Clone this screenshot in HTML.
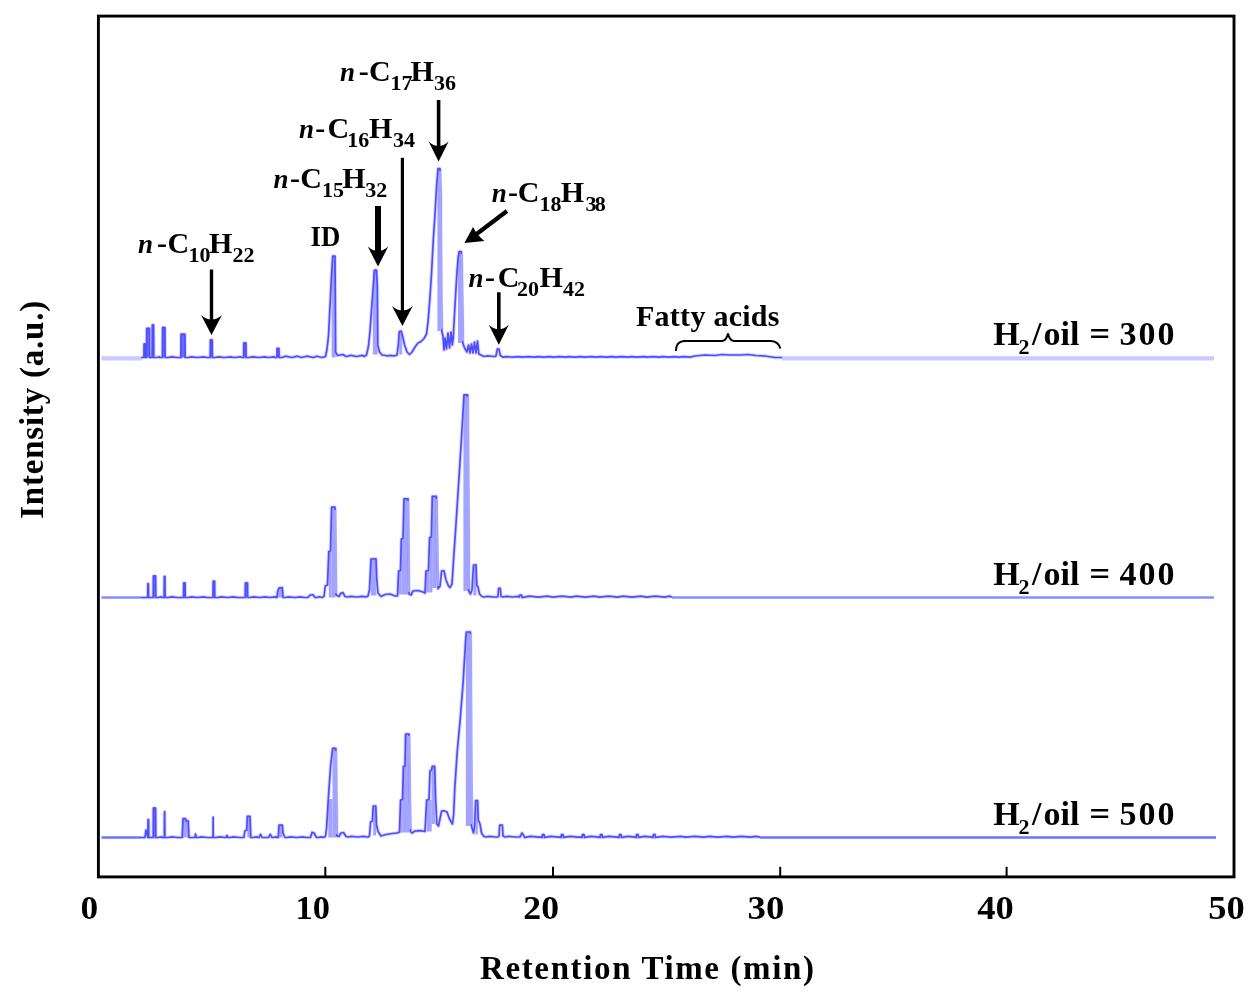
<!DOCTYPE html>
<html lang="en"><head><meta charset="utf-8"><title>GC chromatograms</title>
<style>
html,body{margin:0;padding:0;background:#fff;}
svg{display:block;}
text{font-family:"Liberation Serif",serif;fill:#000;}
.b{font-weight:bold;}
.bi{font-weight:bold;font-style:italic;}
</style></head>
<body>
<svg width="1258" height="1000" viewBox="0 0 1258 1000">
<rect width="1258" height="1000" fill="#fff"/>
<line x1="101.5" y1="358.3" x2="142" y2="358.3" stroke="#c9c9ff" stroke-width="4.2"/>
<line x1="782" y1="358.3" x2="1214" y2="358.3" stroke="#c9c9ff" stroke-width="4.2"/>
<path d="M141.0,357.5 L143.9,357.5 L144.1,344.0 L145.4,344.0 L145.6,357.5 L146.5,357.5 L146.7,328.5 L149.5,328.5 L149.7,357.5 L152.1,357.5 L152.3,325.0 L153.6,325.0 L153.8,357.5 L156.0,357.5 L159.6,356.8 L160.0,357.5 L162.4,357.5 L162.6,327.7 L164.9,327.7 L165.1,357.5 L168.0,357.5 L171.6,356.8 L177.6,357.5 L179.0,357.5 L180.9,357.5 L181.1,334.4 L184.9,334.4 L185.1,357.5 L188.0,357.5 L191.6,356.8 L197.6,357.5 L203.6,356.8 L207.2,357.5 L208.0,357.5 L210.2,357.5 L210.4,340.0 L212.2,340.0 L212.4,357.5 L215.0,357.5 L218.6,356.8 L224.6,357.5 L230.6,356.8 L234.2,357.5 L240.2,356.8 L242.0,357.5 L243.6,357.5 L243.8,343.0 L245.9,343.0 L246.1,357.5 L249.0,357.5 L252.6,356.8 L258.6,357.5 L264.6,356.8 L268.2,357.5 L274.2,356.8 L275.0,357.5 L276.9,357.5 L277.1,348.6 L278.9,348.6 L279.1,357.5 L282.0,357.5 L285.6,356.2 L291.6,357.5 L297.6,356.2 L301.2,357.5 L307.2,356.2 L313.2,357.5 L316.8,356.2 L322.0,357.5 L325.5,356.5 L327.0,349.0 L328.5,336.0 L330.0,306.0 L331.5,276.0 L332.8,256.0 L335.0,256.0 L335.3,300.0 L335.6,352.0 L337.5,355.5 L343.0,354.5 L346.0,356.5 L347.0,356.5 L350.6,355.3 L356.6,356.5 L362.6,355.3 L364.0,356.5 L366.5,355.0 L368.5,346.0 L370.0,331.0 L371.5,310.0 L373.0,290.0 L374.6,270.0 L376.4,270.0 L377.3,285.0 L377.8,345.0 L379.5,352.0 L382.0,355.0 L386.0,355.5 L387.0,356.0 L390.6,355.3 L394.0,356.0 L397.0,355.0 L398.3,345.0 L399.3,331.5 L401.2,331.0 L402.8,337.0 L404.6,345.0 L407.0,352.0 L409.5,354.5 L412.0,352.0 L415.0,347.0 L418.0,343.0 L421.0,341.5 L424.0,338.5 L426.5,334.0 L428.0,322.0 L429.8,300.0 L431.6,272.0 L433.3,240.0 L435.0,214.0 L436.6,186.0 L438.0,168.7 L440.0,168.7 L440.7,200.0 L441.2,300.0 L441.8,331.0 L443.0,336.0 L444.0,350.0 L445.0,338.0 L446.5,349.0 L448.0,333.0 L449.5,348.0 L451.0,332.0 L452.3,345.0 L453.3,338.0 L453.9,325.0 L455.3,300.0 L456.8,275.0 L458.2,257.0 L459.2,251.5 L461.3,251.5 L462.0,280.0 L462.8,343.0 L464.6,348.0 L467.0,352.0 L468.5,345.0 L470.0,353.0 L471.5,344.0 L473.0,353.0 L474.5,342.0 L476.0,353.0 L477.5,341.0 L478.8,354.0 L482.0,355.5 L484.0,356.5 L487.6,355.8 L493.6,356.5 L495.0,356.5 L496.0,356.0 L497.3,349.0 L499.0,349.0 L500.3,355.5 L503.0,357.2 L506.6,356.6 L512.6,357.2 L518.6,356.6 L522.2,357.2 L528.2,356.6 L534.2,357.2 L537.8,356.6 L543.8,357.2 L549.8,356.6 L553.4,357.2 L559.4,356.6 L565.4,357.2 L569.0,356.6 L575.0,357.2 L581.0,356.6 L584.6,357.2 L590.6,356.6 L596.6,357.2 L600.2,356.6 L606.2,357.2 L612.2,356.6 L615.8,357.2 L621.8,356.6 L627.8,357.2 L631.4,356.6 L637.4,357.2 L643.4,356.6 L647.0,357.2 L653.0,356.6 L659.0,357.2 L662.6,356.6 L668.6,357.2 L674.6,356.6 L678.2,357.2 L684.2,356.6 L690.0,357.2 L695.0,356.0 L705.0,355.0 L715.0,355.5 L722.0,354.5 L730.0,355.0 L740.0,355.0 L748.0,354.5 L756.0,355.5 L765.0,356.0 L775.0,357.5 L782.0,357.5" fill="none" stroke="#d6d6ff" stroke-width="3.6" stroke-linejoin="round"/>
<rect x="331.6" y="256.0" width="4.0" height="101.5" fill="#a4a4ff"/>
<rect x="372.8" y="270.0" width="4.8" height="84.5" fill="#a4a4ff"/>
<rect x="437.4" y="169.0" width="3.0" height="162.0" fill="#a4a4ff"/>
<rect x="458.0" y="251.5" width="3.8" height="91.5" fill="#a4a4ff"/>
<rect x="399.2" y="331.5" width="3.0" height="23.0" fill="#a4a4ff"/>
<rect x="143.8" y="343.0" width="1.9" height="14.5" fill="#6a6aff"/>
<rect x="146.4" y="327.5" width="3.4" height="30.0" fill="#6a6aff"/>
<rect x="152.0" y="324.0" width="1.9" height="33.5" fill="#6a6aff"/>
<rect x="162.3" y="326.7" width="2.9" height="30.8" fill="#6a6aff"/>
<rect x="180.8" y="333.4" width="4.4" height="24.1" fill="#6a6aff"/>
<rect x="210.1" y="339.0" width="2.4" height="18.5" fill="#6a6aff"/>
<rect x="243.5" y="342.0" width="2.7" height="15.5" fill="#6a6aff"/>
<rect x="276.8" y="347.6" width="2.4" height="9.9" fill="#6a6aff"/>
<path d="M141.0,357.5 L143.9,357.5 L144.1,344.0 L145.4,344.0 L145.6,357.5 L146.5,357.5 L146.7,328.5 L149.5,328.5 L149.7,357.5 L152.1,357.5 L152.3,325.0 L153.6,325.0 L153.8,357.5 L156.0,357.5 L159.6,356.8 L160.0,357.5 L162.4,357.5 L162.6,327.7 L164.9,327.7 L165.1,357.5 L168.0,357.5 L171.6,356.8 L177.6,357.5 L179.0,357.5 L180.9,357.5 L181.1,334.4 L184.9,334.4 L185.1,357.5 L188.0,357.5 L191.6,356.8 L197.6,357.5 L203.6,356.8 L207.2,357.5 L208.0,357.5 L210.2,357.5 L210.4,340.0 L212.2,340.0 L212.4,357.5 L215.0,357.5 L218.6,356.8 L224.6,357.5 L230.6,356.8 L234.2,357.5 L240.2,356.8 L242.0,357.5 L243.6,357.5 L243.8,343.0 L245.9,343.0 L246.1,357.5 L249.0,357.5 L252.6,356.8 L258.6,357.5 L264.6,356.8 L268.2,357.5 L274.2,356.8 L275.0,357.5 L276.9,357.5 L277.1,348.6 L278.9,348.6 L279.1,357.5 L282.0,357.5 L285.6,356.2 L291.6,357.5 L297.6,356.2 L301.2,357.5 L307.2,356.2 L313.2,357.5 L316.8,356.2 L322.0,357.5 L325.5,356.5 L327.0,349.0 L328.5,336.0 L330.0,306.0 L331.5,276.0 L332.8,256.0 L335.0,256.0 L335.3,300.0 L335.6,352.0 L337.5,355.5 L343.0,354.5 L346.0,356.5 L347.0,356.5 L350.6,355.3 L356.6,356.5 L362.6,355.3 L364.0,356.5 L366.5,355.0 L368.5,346.0 L370.0,331.0 L371.5,310.0 L373.0,290.0 L374.6,270.0 L376.4,270.0 L377.3,285.0 L377.8,345.0 L379.5,352.0 L382.0,355.0 L386.0,355.5 L387.0,356.0 L390.6,355.3 L394.0,356.0 L397.0,355.0 L398.3,345.0 L399.3,331.5 L401.2,331.0 L402.8,337.0 L404.6,345.0 L407.0,352.0 L409.5,354.5 L412.0,352.0 L415.0,347.0 L418.0,343.0 L421.0,341.5 L424.0,338.5 L426.5,334.0 L428.0,322.0 L429.8,300.0 L431.6,272.0 L433.3,240.0 L435.0,214.0 L436.6,186.0 L438.0,168.7 L440.0,168.7 L440.7,200.0 L441.2,300.0 L441.8,331.0 L443.0,336.0 L444.0,350.0 L445.0,338.0 L446.5,349.0 L448.0,333.0 L449.5,348.0 L451.0,332.0 L452.3,345.0 L453.3,338.0 L453.9,325.0 L455.3,300.0 L456.8,275.0 L458.2,257.0 L459.2,251.5 L461.3,251.5 L462.0,280.0 L462.8,343.0 L464.6,348.0 L467.0,352.0 L468.5,345.0 L470.0,353.0 L471.5,344.0 L473.0,353.0 L474.5,342.0 L476.0,353.0 L477.5,341.0 L478.8,354.0 L482.0,355.5 L484.0,356.5 L487.6,355.8 L493.6,356.5 L495.0,356.5 L496.0,356.0 L497.3,349.0 L499.0,349.0 L500.3,355.5 L503.0,357.2 L506.6,356.6 L512.6,357.2 L518.6,356.6 L522.2,357.2 L528.2,356.6 L534.2,357.2 L537.8,356.6 L543.8,357.2 L549.8,356.6 L553.4,357.2 L559.4,356.6 L565.4,357.2 L569.0,356.6 L575.0,357.2 L581.0,356.6 L584.6,357.2 L590.6,356.6 L596.6,357.2 L600.2,356.6 L606.2,357.2 L612.2,356.6 L615.8,357.2 L621.8,356.6 L627.8,357.2 L631.4,356.6 L637.4,357.2 L643.4,356.6 L647.0,357.2 L653.0,356.6 L659.0,357.2 L662.6,356.6 L668.6,357.2 L674.6,356.6 L678.2,357.2 L684.2,356.6 L690.0,357.2 L695.0,356.0 L705.0,355.0 L715.0,355.5 L722.0,354.5 L730.0,355.0 L740.0,355.0 L748.0,354.5 L756.0,355.5 L765.0,356.0 L775.0,357.5 L782.0,357.5" fill="none" stroke="#4e4eff" stroke-width="1.7" stroke-linejoin="round"/>
<line x1="440.1" y1="171" x2="441.6" y2="329" stroke="#a6a6ff" stroke-width="2.5"/>
<line x1="461.4" y1="254" x2="462.7" y2="341" stroke="#a6a6ff" stroke-width="2.5"/>
<line x1="101.5" y1="597.5" x2="142" y2="597.5" stroke="#8a8aff" stroke-width="2.6"/>
<line x1="672" y1="597.5" x2="1214" y2="597.5" stroke="#8a8aff" stroke-width="2.6"/>
<path d="M141.0,597.5 L147.7,597.5 L147.9,583.8 L148.4,583.8 L148.6,597.5 L153.2,597.5 L153.4,576.0 L155.6,576.0 L155.8,597.5 L158.0,597.5 L161.6,596.8 L162.0,597.5 L164.1,597.5 L164.3,576.6 L164.9,576.6 L165.1,597.5 L168.0,597.5 L171.6,596.8 L177.6,597.5 L181.0,597.5 L183.5,597.5 L183.7,583.0 L185.1,583.0 L185.3,597.5 L188.0,597.5 L191.6,596.8 L197.6,597.5 L203.6,596.8 L207.2,597.5 L211.0,597.5 L213.0,597.5 L213.2,581.4 L214.6,581.4 L214.8,597.5 L218.0,597.5 L221.6,596.8 L227.6,597.5 L233.6,596.8 L237.2,597.5 L243.0,597.5 L245.2,597.5 L245.4,583.0 L247.5,583.0 L247.7,597.5 L250.0,597.5 L253.6,596.8 L259.6,597.5 L265.6,596.8 L269.2,597.5 L275.2,596.8 L276.0,597.5 L277.0,597.5 L277.5,592.0 L279.0,588.0 L282.3,587.6 L283.0,597.5 L285.0,597.5 L288.6,596.8 L294.6,597.5 L300.6,596.8 L304.2,597.5 L307.0,597.5 L308.0,597.5 L310.0,595.0 L313.0,594.8 L315.0,597.5 L316.0,597.5 L319.6,596.8 L322.0,597.5 L324.0,596.5 L325.3,586.0 L327.5,585.0 L328.8,551.5 L330.5,551.0 L331.6,507.2 L335.0,507.2 L335.5,560.0 L336.0,595.0 L339.0,596.5 L341.0,593.0 L343.0,592.6 L345.0,596.5 L347.0,597.0 L350.6,596.3 L356.6,597.0 L362.6,596.3 L366.0,597.0 L368.0,596.0 L369.5,590.0 L371.0,559.0 L376.0,558.8 L376.8,580.0 L378.0,593.0 L381.0,596.5 L385.0,594.5 L390.0,594.0 L395.0,596.0 L397.5,596.0 L398.6,571.0 L400.5,570.5 L401.3,539.0 L403.0,538.5 L404.0,498.8 L408.0,498.8 L408.4,560.0 L409.0,594.0 L411.0,595.0 L413.0,591.0 L418.0,590.5 L423.0,592.0 L425.0,593.0 L426.0,571.0 L428.5,570.5 L429.6,537.5 L431.4,537.0 L432.3,496.4 L436.4,496.4 L437.0,560.0 L438.0,588.8 L440.0,586.0 L441.6,571.0 L444.0,570.8 L446.0,580.0 L448.5,586.0 L450.0,587.6 L452.0,584.0 L453.6,559.0 L456.0,524.0 L458.4,487.0 L460.8,449.6 L463.2,409.0 L464.0,394.9 L467.6,394.9 L468.2,480.0 L468.8,591.0 L470.5,594.0 L472.0,590.0 L473.5,565.0 L476.0,564.8 L476.8,585.0 L478.0,587.0 L479.5,594.0 L482.0,596.5 L484.0,597.0 L487.6,596.3 L493.6,597.0 L497.0,597.0 L498.0,596.5 L498.6,588.3 L500.3,588.3 L501.0,596.5 L503.0,597.0 L506.6,596.3 L512.6,597.0 L518.6,596.3 L519.0,597.0 L520.0,595.0 L521.5,595.0 L522.0,597.5 L524.0,597.2 L529.4,596.2 L538.4,597.2 L547.4,596.2 L552.8,597.2 L561.8,596.2 L570.8,597.2 L576.2,596.2 L585.2,597.2 L594.2,596.2 L599.6,597.2 L608.6,596.2 L617.6,597.2 L623.0,596.2 L632.0,597.2 L641.0,596.2 L646.4,597.2 L655.4,596.2 L664.4,597.2 L669.8,596.2 L672.0,597.2" fill="none" stroke="#d6d6ff" stroke-width="3.6" stroke-linejoin="round"/>
<rect x="278.0" y="588.0" width="4.5" height="9.5" fill="#a4a4ff"/>
<rect x="331.4" y="507.5" width="3.9" height="90.0" fill="#a4a4ff"/>
<rect x="328.8" y="551.0" width="2.8" height="46.5" fill="#a4a4ff"/>
<rect x="371.0" y="559.0" width="5.2" height="36.5" fill="#a4a4ff"/>
<rect x="403.9" y="499.0" width="4.4" height="95.5" fill="#a4a4ff"/>
<rect x="401.2" y="539.0" width="2.8" height="55.5" fill="#a4a4ff"/>
<rect x="398.6" y="571.0" width="2.8" height="23.5" fill="#a4a4ff"/>
<rect x="432.2" y="496.6" width="4.4" height="91.4" fill="#a4a4ff"/>
<rect x="429.5" y="537.5" width="2.9" height="55.0" fill="#a4a4ff"/>
<rect x="426.2" y="571.0" width="3.4" height="21.5" fill="#a4a4ff"/>
<rect x="463.4" y="395.0" width="4.5" height="196.0" fill="#a4a4ff"/>
<rect x="473.4" y="565.0" width="3.0" height="30.5" fill="#a4a4ff"/>
<rect x="147.6" y="582.8" width="1.1" height="14.7" fill="#6a6aff"/>
<rect x="153.1" y="575.0" width="2.8" height="22.5" fill="#6a6aff"/>
<rect x="164.0" y="575.6" width="1.2" height="21.9" fill="#6a6aff"/>
<rect x="183.4" y="582.0" width="2.0" height="15.5" fill="#6a6aff"/>
<rect x="212.9" y="580.4" width="2.0" height="17.1" fill="#6a6aff"/>
<rect x="245.1" y="582.0" width="2.7" height="15.5" fill="#6a6aff"/>
<path d="M141.0,597.5 L147.7,597.5 L147.9,583.8 L148.4,583.8 L148.6,597.5 L153.2,597.5 L153.4,576.0 L155.6,576.0 L155.8,597.5 L158.0,597.5 L161.6,596.8 L162.0,597.5 L164.1,597.5 L164.3,576.6 L164.9,576.6 L165.1,597.5 L168.0,597.5 L171.6,596.8 L177.6,597.5 L181.0,597.5 L183.5,597.5 L183.7,583.0 L185.1,583.0 L185.3,597.5 L188.0,597.5 L191.6,596.8 L197.6,597.5 L203.6,596.8 L207.2,597.5 L211.0,597.5 L213.0,597.5 L213.2,581.4 L214.6,581.4 L214.8,597.5 L218.0,597.5 L221.6,596.8 L227.6,597.5 L233.6,596.8 L237.2,597.5 L243.0,597.5 L245.2,597.5 L245.4,583.0 L247.5,583.0 L247.7,597.5 L250.0,597.5 L253.6,596.8 L259.6,597.5 L265.6,596.8 L269.2,597.5 L275.2,596.8 L276.0,597.5 L277.0,597.5 L277.5,592.0 L279.0,588.0 L282.3,587.6 L283.0,597.5 L285.0,597.5 L288.6,596.8 L294.6,597.5 L300.6,596.8 L304.2,597.5 L307.0,597.5 L308.0,597.5 L310.0,595.0 L313.0,594.8 L315.0,597.5 L316.0,597.5 L319.6,596.8 L322.0,597.5 L324.0,596.5 L325.3,586.0 L327.5,585.0 L328.8,551.5 L330.5,551.0 L331.6,507.2 L335.0,507.2 L335.5,560.0 L336.0,595.0 L339.0,596.5 L341.0,593.0 L343.0,592.6 L345.0,596.5 L347.0,597.0 L350.6,596.3 L356.6,597.0 L362.6,596.3 L366.0,597.0 L368.0,596.0 L369.5,590.0 L371.0,559.0 L376.0,558.8 L376.8,580.0 L378.0,593.0 L381.0,596.5 L385.0,594.5 L390.0,594.0 L395.0,596.0 L397.5,596.0 L398.6,571.0 L400.5,570.5 L401.3,539.0 L403.0,538.5 L404.0,498.8 L408.0,498.8 L408.4,560.0 L409.0,594.0 L411.0,595.0 L413.0,591.0 L418.0,590.5 L423.0,592.0 L425.0,593.0 L426.0,571.0 L428.5,570.5 L429.6,537.5 L431.4,537.0 L432.3,496.4 L436.4,496.4 L437.0,560.0 L438.0,588.8 L440.0,586.0 L441.6,571.0 L444.0,570.8 L446.0,580.0 L448.5,586.0 L450.0,587.6 L452.0,584.0 L453.6,559.0 L456.0,524.0 L458.4,487.0 L460.8,449.6 L463.2,409.0 L464.0,394.9 L467.6,394.9 L468.2,480.0 L468.8,591.0 L470.5,594.0 L472.0,590.0 L473.5,565.0 L476.0,564.8 L476.8,585.0 L478.0,587.0 L479.5,594.0 L482.0,596.5 L484.0,597.0 L487.6,596.3 L493.6,597.0 L497.0,597.0 L498.0,596.5 L498.6,588.3 L500.3,588.3 L501.0,596.5 L503.0,597.0 L506.6,596.3 L512.6,597.0 L518.6,596.3 L519.0,597.0 L520.0,595.0 L521.5,595.0 L522.0,597.5 L524.0,597.2 L529.4,596.2 L538.4,597.2 L547.4,596.2 L552.8,597.2 L561.8,596.2 L570.8,597.2 L576.2,596.2 L585.2,597.2 L594.2,596.2 L599.6,597.2 L608.6,596.2 L617.6,597.2 L623.0,596.2 L632.0,597.2 L641.0,596.2 L646.4,597.2 L655.4,596.2 L664.4,597.2 L669.8,596.2 L672.0,597.2" fill="none" stroke="#4e4eff" stroke-width="1.7" stroke-linejoin="round"/>
<line x1="467.7" y1="397" x2="468.7" y2="589" stroke="#a6a6ff" stroke-width="2.5"/>
<line x1="408.05" y1="501" x2="408.95" y2="592" stroke="#a6a6ff" stroke-width="2.5"/>
<line x1="436.5" y1="499" x2="437.9" y2="586" stroke="#a6a6ff" stroke-width="2.5"/>
<line x1="335.05" y1="510" x2="335.95" y2="593" stroke="#a6a6ff" stroke-width="2.5"/>
<line x1="101.5" y1="837.5" x2="142" y2="837.5" stroke="#7070ff" stroke-width="2.4"/>
<line x1="760" y1="837.5" x2="1216" y2="837.5" stroke="#7070ff" stroke-width="2.4"/>
<path d="M141.0,837.5 L145.0,837.5 L146.0,830.0 L147.9,837.5 L148.1,819.7 L148.6,819.7 L148.8,837.5 L153.2,837.5 L153.4,808.2 L155.6,808.2 L155.8,837.5 L158.0,837.5 L161.6,836.8 L162.0,837.5 L164.3,837.5 L164.5,811.8 L164.7,811.8 L164.9,837.5 L168.0,837.5 L171.6,836.8 L177.6,837.5 L181.0,837.5 L182.2,837.5 L183.0,818.7 L185.5,818.7 L186.0,821.0 L188.2,821.0 L189.0,837.5 L191.0,837.5 L194.0,837.5 L195.0,837.5 L195.5,834.0 L196.5,837.5 L198.0,837.5 L201.6,836.8 L207.6,837.5 L211.0,837.5 L213.0,837.5 L213.2,817.3 L213.1,817.3 L213.3,837.5 L216.0,837.5 L219.6,836.8 L225.6,837.5 L226.0,837.5 L227.0,835.5 L228.0,837.5 L230.0,837.5 L233.6,836.8 L239.6,837.5 L243.0,837.5 L244.0,837.5 L244.8,831.0 L246.8,830.0 L247.3,816.3 L250.0,816.3 L250.8,837.5 L253.0,837.5 L256.6,836.8 L258.0,837.5 L259.0,837.5 L260.6,834.3 L262.0,837.5 L268.5,837.5 L270.2,834.3 L272.0,837.5 L273.0,837.5 L276.6,836.8 L277.0,837.5 L278.2,837.5 L279.0,825.2 L282.4,825.2 L283.0,833.0 L285.0,837.5 L287.0,837.5 L290.6,836.8 L296.6,837.5 L302.6,836.8 L306.2,837.5 L309.0,837.5 L310.5,837.5 L312.0,832.4 L314.0,833.0 L316.5,837.5 L318.0,837.5 L321.6,836.8 L323.0,837.5 L325.4,836.5 L326.6,828.0 L328.3,799.0 L330.7,765.0 L332.6,748.4 L335.8,748.4 L336.3,800.0 L336.8,836.0 L339.0,836.5 L341.0,833.0 L343.5,832.5 L346.0,836.5 L348.0,837.0 L351.6,836.3 L357.6,837.0 L363.6,836.3 L367.2,837.0 L368.0,837.0 L369.5,836.0 L370.6,822.0 L372.4,821.0 L373.2,806.0 L375.8,806.0 L376.5,825.0 L378.0,831.5 L381.0,836.0 L386.0,834.5 L392.0,833.5 L397.0,833.0 L399.5,832.0 L400.6,800.0 L402.5,799.5 L403.5,766.4 L405.0,766.0 L405.6,734.0 L409.0,734.0 L409.6,800.0 L410.4,831.2 L412.0,833.0 L415.0,831.0 L420.0,830.6 L425.0,831.5 L426.7,800.0 L429.0,799.5 L430.0,771.2 L431.6,770.0 L432.3,766.4 L434.7,766.4 L435.5,796.0 L436.8,824.0 L438.5,826.0 L441.6,811.0 L444.0,810.8 L447.0,812.0 L449.5,819.0 L452.4,824.0 L453.6,815.0 L454.8,788.0 L457.2,752.0 L460.3,718.4 L463.2,681.2 L465.6,640.4 L466.4,632.0 L470.4,632.0 L471.0,720.0 L471.6,826.4 L473.5,833.0 L474.6,826.0 L475.6,800.5 L477.6,800.5 L478.3,820.0 L480.0,824.0 L481.5,833.0 L484.0,836.5 L486.0,837.0 L489.6,836.3 L495.6,837.0 L498.0,837.0 L499.0,836.0 L499.7,825.2 L502.4,825.2 L503.0,836.0 L505.0,837.0 L508.6,836.3 L514.6,837.0 L520.0,837.0 L521.0,835.0 L522.0,833.0 L523.5,835.0 L524.5,837.5 L526.0,837.2 L530.8,836.4 L538.8,837.2 L541.5,837.2 L542.0,837.5 L542.5,834.5 L544.0,834.5 L544.5,837.5 L546.0,837.2 L550.8,836.4 L558.8,837.2 L560.5,837.2 L561.0,837.5 L561.5,834.5 L563.0,834.5 L563.5,837.5 L565.0,837.2 L569.8,836.4 L577.8,837.2 L581.5,837.2 L582.0,837.5 L582.5,834.5 L584.0,834.5 L584.5,837.5 L586.0,837.2 L590.8,836.4 L598.8,837.2 L599.5,837.2 L600.0,837.5 L600.5,834.5 L602.0,834.5 L602.5,837.5 L604.0,837.2 L608.8,836.4 L616.8,837.2 L618.5,837.2 L619.0,837.5 L619.5,834.5 L621.0,834.5 L621.5,837.5 L623.0,837.2 L627.8,836.4 L635.5,837.2 L636.0,837.5 L636.5,834.5 L638.0,834.5 L638.5,837.5 L640.0,837.2 L644.8,836.4 L652.5,837.2 L653.0,837.5 L653.5,834.5 L655.0,834.5 L655.5,837.5 L657.0,837.2 L662.4,836.4 L671.4,837.2 L680.4,836.4 L685.8,837.2 L694.8,836.4 L703.8,837.2 L709.2,836.4 L718.2,837.2 L727.2,836.4 L732.6,837.2 L741.6,836.4 L750.6,837.2 L756.0,836.4 L760.0,837.2" fill="none" stroke="#d6d6ff" stroke-width="3.6" stroke-linejoin="round"/>
<rect x="183.0" y="819.5" width="5.4" height="18.0" fill="#a4a4ff"/>
<rect x="247.3" y="816.5" width="2.9" height="21.0" fill="#a4a4ff"/>
<rect x="279.0" y="825.5" width="3.6" height="12.0" fill="#a4a4ff"/>
<rect x="332.5" y="748.6" width="3.4" height="88.9" fill="#a4a4ff"/>
<rect x="328.3" y="799.0" width="4.3" height="38.5" fill="#a4a4ff"/>
<rect x="373.1" y="806.0" width="2.9" height="29.5" fill="#a4a4ff"/>
<rect x="405.0" y="734.0" width="4.3" height="98.5" fill="#a4a4ff"/>
<rect x="402.5" y="766.4" width="2.7" height="66.1" fill="#a4a4ff"/>
<rect x="400.4" y="800.0" width="2.3" height="32.5" fill="#a4a4ff"/>
<rect x="431.5" y="766.6" width="3.4" height="57.4" fill="#a4a4ff"/>
<rect x="426.8" y="800.0" width="4.9" height="31.5" fill="#a4a4ff"/>
<rect x="465.8" y="632.0" width="5.0" height="194.0" fill="#a4a4ff"/>
<rect x="475.5" y="800.5" width="2.3" height="34.0" fill="#a4a4ff"/>
<rect x="147.8" y="818.7" width="1.1" height="18.8" fill="#6a6aff"/>
<rect x="153.1" y="807.2" width="2.8" height="30.3" fill="#6a6aff"/>
<rect x="164.2" y="810.8" width="0.8" height="26.7" fill="#6a6aff"/>
<rect x="212.9" y="816.3" width="0.5" height="21.2" fill="#6a6aff"/>
<path d="M141.0,837.5 L145.0,837.5 L146.0,830.0 L147.9,837.5 L148.1,819.7 L148.6,819.7 L148.8,837.5 L153.2,837.5 L153.4,808.2 L155.6,808.2 L155.8,837.5 L158.0,837.5 L161.6,836.8 L162.0,837.5 L164.3,837.5 L164.5,811.8 L164.7,811.8 L164.9,837.5 L168.0,837.5 L171.6,836.8 L177.6,837.5 L181.0,837.5 L182.2,837.5 L183.0,818.7 L185.5,818.7 L186.0,821.0 L188.2,821.0 L189.0,837.5 L191.0,837.5 L194.0,837.5 L195.0,837.5 L195.5,834.0 L196.5,837.5 L198.0,837.5 L201.6,836.8 L207.6,837.5 L211.0,837.5 L213.0,837.5 L213.2,817.3 L213.1,817.3 L213.3,837.5 L216.0,837.5 L219.6,836.8 L225.6,837.5 L226.0,837.5 L227.0,835.5 L228.0,837.5 L230.0,837.5 L233.6,836.8 L239.6,837.5 L243.0,837.5 L244.0,837.5 L244.8,831.0 L246.8,830.0 L247.3,816.3 L250.0,816.3 L250.8,837.5 L253.0,837.5 L256.6,836.8 L258.0,837.5 L259.0,837.5 L260.6,834.3 L262.0,837.5 L268.5,837.5 L270.2,834.3 L272.0,837.5 L273.0,837.5 L276.6,836.8 L277.0,837.5 L278.2,837.5 L279.0,825.2 L282.4,825.2 L283.0,833.0 L285.0,837.5 L287.0,837.5 L290.6,836.8 L296.6,837.5 L302.6,836.8 L306.2,837.5 L309.0,837.5 L310.5,837.5 L312.0,832.4 L314.0,833.0 L316.5,837.5 L318.0,837.5 L321.6,836.8 L323.0,837.5 L325.4,836.5 L326.6,828.0 L328.3,799.0 L330.7,765.0 L332.6,748.4 L335.8,748.4 L336.3,800.0 L336.8,836.0 L339.0,836.5 L341.0,833.0 L343.5,832.5 L346.0,836.5 L348.0,837.0 L351.6,836.3 L357.6,837.0 L363.6,836.3 L367.2,837.0 L368.0,837.0 L369.5,836.0 L370.6,822.0 L372.4,821.0 L373.2,806.0 L375.8,806.0 L376.5,825.0 L378.0,831.5 L381.0,836.0 L386.0,834.5 L392.0,833.5 L397.0,833.0 L399.5,832.0 L400.6,800.0 L402.5,799.5 L403.5,766.4 L405.0,766.0 L405.6,734.0 L409.0,734.0 L409.6,800.0 L410.4,831.2 L412.0,833.0 L415.0,831.0 L420.0,830.6 L425.0,831.5 L426.7,800.0 L429.0,799.5 L430.0,771.2 L431.6,770.0 L432.3,766.4 L434.7,766.4 L435.5,796.0 L436.8,824.0 L438.5,826.0 L441.6,811.0 L444.0,810.8 L447.0,812.0 L449.5,819.0 L452.4,824.0 L453.6,815.0 L454.8,788.0 L457.2,752.0 L460.3,718.4 L463.2,681.2 L465.6,640.4 L466.4,632.0 L470.4,632.0 L471.0,720.0 L471.6,826.4 L473.5,833.0 L474.6,826.0 L475.6,800.5 L477.6,800.5 L478.3,820.0 L480.0,824.0 L481.5,833.0 L484.0,836.5 L486.0,837.0 L489.6,836.3 L495.6,837.0 L498.0,837.0 L499.0,836.0 L499.7,825.2 L502.4,825.2 L503.0,836.0 L505.0,837.0 L508.6,836.3 L514.6,837.0 L520.0,837.0 L521.0,835.0 L522.0,833.0 L523.5,835.0 L524.5,837.5 L526.0,837.2 L530.8,836.4 L538.8,837.2 L541.5,837.2 L542.0,837.5 L542.5,834.5 L544.0,834.5 L544.5,837.5 L546.0,837.2 L550.8,836.4 L558.8,837.2 L560.5,837.2 L561.0,837.5 L561.5,834.5 L563.0,834.5 L563.5,837.5 L565.0,837.2 L569.8,836.4 L577.8,837.2 L581.5,837.2 L582.0,837.5 L582.5,834.5 L584.0,834.5 L584.5,837.5 L586.0,837.2 L590.8,836.4 L598.8,837.2 L599.5,837.2 L600.0,837.5 L600.5,834.5 L602.0,834.5 L602.5,837.5 L604.0,837.2 L608.8,836.4 L616.8,837.2 L618.5,837.2 L619.0,837.5 L619.5,834.5 L621.0,834.5 L621.5,837.5 L623.0,837.2 L627.8,836.4 L635.5,837.2 L636.0,837.5 L636.5,834.5 L638.0,834.5 L638.5,837.5 L640.0,837.2 L644.8,836.4 L652.5,837.2 L653.0,837.5 L653.5,834.5 L655.0,834.5 L655.5,837.5 L657.0,837.2 L662.4,836.4 L671.4,837.2 L680.4,836.4 L685.8,837.2 L694.8,836.4 L703.8,837.2 L709.2,836.4 L718.2,837.2 L727.2,836.4 L732.6,837.2 L741.6,836.4 L750.6,837.2 L756.0,836.4 L760.0,837.2" fill="none" stroke="#4e4eff" stroke-width="1.7" stroke-linejoin="round"/>
<line x1="470.45" y1="634" x2="471.55" y2="824" stroke="#a6a6ff" stroke-width="2.5"/>
<line x1="409.05" y1="736" x2="410.3" y2="829" stroke="#a6a6ff" stroke-width="2.5"/>
<line x1="335.85" y1="751" x2="336.75" y2="834" stroke="#a6a6ff" stroke-width="2.5"/>
<rect x="98.4" y="16.1" width="1135.6" height="860.8" fill="none" stroke="#000" stroke-width="2.9"/>
<line x1="325.3" y1="866.8" x2="325.3" y2="876" stroke="#000" stroke-width="2"/>
<line x1="553.0" y1="866.8" x2="553.0" y2="876" stroke="#000" stroke-width="2"/>
<line x1="780.2" y1="866.8" x2="780.2" y2="876" stroke="#000" stroke-width="2"/>
<line x1="1006.6" y1="866.8" x2="1006.6" y2="876" stroke="#000" stroke-width="2"/>
<text class="b" font-size="34" x="80.5" y="918.8" textLength="17.7" lengthAdjust="spacingAndGlyphs">0</text>
<text class="b" font-size="34" x="295.5" y="918.8" textLength="34.5" lengthAdjust="spacingAndGlyphs">10</text>
<text class="b" font-size="34" x="523.3" y="918.8" textLength="35.7" lengthAdjust="spacingAndGlyphs">20</text>
<text class="b" font-size="34" x="747.5" y="918.8" textLength="36.8" lengthAdjust="spacingAndGlyphs">30</text>
<text class="b" font-size="34" x="977.3" y="918.8" textLength="36.5" lengthAdjust="spacingAndGlyphs">40</text>
<text class="b" font-size="34" x="1208.3" y="918.8" textLength="36.5" lengthAdjust="spacingAndGlyphs">50</text>
<text class="b" font-size="33" x="480" y="979.2" textLength="334" lengthAdjust="spacing">Retention Time (min)</text>
<text class="b" font-size="33" transform="translate(42.8,518.8) rotate(-90)" textLength="218" lengthAdjust="spacing">Intensity (a.u.)</text>
<text class="b" font-size="30" y="252.9"><tspan x="138" class="bi" font-size="27">n</tspan><tspan x="157">-</tspan><tspan x="167.5">C</tspan><tspan x="188.5" dy="9" font-size="22">10</tspan><tspan x="209" dy="-9">H</tspan><tspan x="232.5" dy="9" font-size="22" style="letter-spacing:0px">22</tspan></text>
<text class="b" font-size="30" y="187.7"><tspan x="273.5" class="bi" font-size="27">n</tspan><tspan x="290">-</tspan><tspan x="300.2">C</tspan><tspan x="322" dy="9" font-size="22">15</tspan><tspan x="342.2" dy="-9">H</tspan><tspan x="365.2" dy="9" font-size="22" style="letter-spacing:0px">32</tspan></text>
<text class="b" font-size="30" y="138.1"><tspan x="299" class="bi" font-size="27">n</tspan><tspan x="315.2">-</tspan><tspan x="327.5">C</tspan><tspan x="347.3" dy="9" font-size="22">16</tspan><tspan x="368.9" dy="-9">H</tspan><tspan x="393" dy="9" font-size="22" style="letter-spacing:0px">34</tspan></text>
<text class="b" font-size="30" y="80.6"><tspan x="340" class="bi" font-size="27">n</tspan><tspan x="358.7">-</tspan><tspan x="369">C</tspan><tspan x="390.6" dy="9" font-size="22">17</tspan><tspan x="410.5" dy="-9">H</tspan><tspan x="434" dy="9" font-size="22" style="letter-spacing:0px">36</tspan></text>
<text class="b" font-size="30" y="202"><tspan x="491.8" class="bi" font-size="27">n</tspan><tspan x="508">-</tspan><tspan x="517.8">C</tspan><tspan x="539.5" dy="9" font-size="22">18</tspan><tspan x="560.8" dy="-9">H</tspan><tspan x="585.5" dy="9" font-size="22" style="letter-spacing:-1.8px">38</tspan></text>
<text class="b" font-size="30" y="287"><tspan x="468.4" class="bi" font-size="27">n</tspan><tspan x="485">-</tspan><tspan x="497.8">C</tspan><tspan x="517" dy="9" font-size="22">20</tspan><tspan x="539.4" dy="-9">H</tspan><tspan x="563" dy="9" font-size="22" style="letter-spacing:0px">42</tspan></text>
<text class="b" font-size="30" x="310.5" y="246.2" textLength="29.8" lengthAdjust="spacingAndGlyphs">ID</text>
<text class="b" font-size="30" x="636" y="325.8" textLength="143.5" lengthAdjust="spacing">Fatty acids</text>
<path d="M675.8,351 Q676,341.5 684,341 L722,341 Q726.5,340.5 728,333.5 Q729.5,340.5 734,341 L771,341 Q778.5,341.5 780.3,348.5" fill="none" stroke="#000" stroke-width="2"/>
<line x1="211.5" y1="269.5" x2="211.5" y2="327" stroke="#000" stroke-width="3.4"/><path d="M211.5,335 L201.0,315 Q211.5,324 222.0,315 Z" fill="#000"/>
<line x1="378" y1="206" x2="378" y2="258.6" stroke="#000" stroke-width="6"/><path d="M378,266.6 L367.8,246.60000000000002 Q378,255.60000000000002 388.2,246.60000000000002 Z" fill="#000"/>
<line x1="402.4" y1="157.8" x2="402.4" y2="318" stroke="#000" stroke-width="3.2"/><path d="M402.4,326 L392.0,306 Q402.4,315 412.79999999999995,306 Z" fill="#000"/>
<line x1="438.6" y1="100" x2="438.6" y2="153.6" stroke="#000" stroke-width="3.6"/><path d="M438.6,161.6 L428.6,141.6 Q438.6,150.6 448.6,141.6 Z" fill="#000"/>
<line x1="498.8" y1="292.3" x2="498.8" y2="336.8" stroke="#000" stroke-width="3.6"/><path d="M498.8,344.8 L488.8,324.8 Q498.8,333.8 508.8,324.8 Z" fill="#000"/>
<line x1="507" y1="211" x2="474" y2="236" stroke="#000" stroke-width="4.2"/><path d="M464.4,243 L473,227 Q477,235 484.4,241 Z" fill="#000"/>
<text class="b" font-size="34" y="344.5"><tspan x="993.2">H</tspan><tspan dy="9" font-size="22" x="1018.6">2</tspan><tspan dy="-9" x="1032">/</tspan><tspan x="1043.6">oil </tspan><tspan x="1089.2" textLength="21" lengthAdjust="spacingAndGlyphs">=</tspan><tspan> </tspan><tspan x="1119.4" style="letter-spacing:2px">300</tspan></text>
<text class="b" font-size="34" y="584.5"><tspan x="993.2">H</tspan><tspan dy="9" font-size="22" x="1018.6">2</tspan><tspan dy="-9" x="1032">/</tspan><tspan x="1043.6">oil </tspan><tspan x="1089.2" textLength="21" lengthAdjust="spacingAndGlyphs">=</tspan><tspan> </tspan><tspan x="1119.4" style="letter-spacing:2px">400</tspan></text>
<text class="b" font-size="34" y="825"><tspan x="993.2">H</tspan><tspan dy="9" font-size="22" x="1018.6">2</tspan><tspan dy="-9" x="1032">/</tspan><tspan x="1043.6">oil </tspan><tspan x="1089.2" textLength="21" lengthAdjust="spacingAndGlyphs">=</tspan><tspan> </tspan><tspan x="1119.4" style="letter-spacing:2px">500</tspan></text>
</svg>
</body></html>
